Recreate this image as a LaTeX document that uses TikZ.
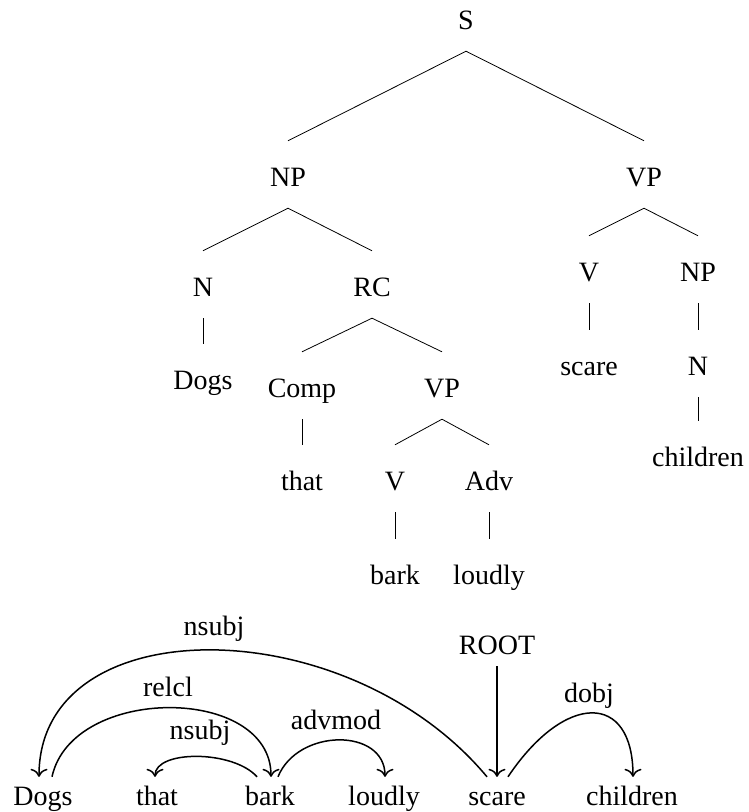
\documentclass[tikz,border=0pt]{standalone}
\usepackage{fontspec}
\setmainfont{Liberation Serif}
\usetikzlibrary{arrows.meta}
\begin{document}
\begin{tikzpicture}[x=1pt,y=1pt,
  every node/.style={font=\fontsize{28}{33}\selectfont},
  tnode/.style={anchor=base,text height=31pt,text depth=6pt,inner xsep=0pt,inner ysep=15pt},
  wnode/.style={anchor=base,text height=20pt,text depth=6pt,inner xsep=0pt,inner ysep=9pt},
  lbl/.style={anchor=base,inner sep=0pt},
  rootnode/.style={anchor=base,text height=20pt,text depth=6pt,inner xsep=0pt,inner ysep=5pt},
  tedge/.style={line width=0.8pt},
  dep/.style={line width=1.5pt,-{Computer Modern Rightarrow[length=8pt,width=17pt]}}]
\useasboundingbox (0,0) rectangle (748,812);
% constituency tree
\node[tnode] (S) at (466,782) {S};
\node[tnode] (NP) at (288,625) {NP};
\node[tnode] (VP) at (644,625) {VP};
\node[tnode] (N1) at (203,515) {N};
\node[tnode] (RC) at (372,515) {RC};
\node[tnode] (Dogs1) at (203,422) {Dogs};
\node[tnode] (Comp) at (302,414) {Comp};
\node[tnode] (VP2) at (442,414) {VP};
\node[tnode] (That1) at (302,321) {that};
\node[tnode] (V2) at (395,321) {V};
\node[tnode] (Adv) at (489,321) {Adv};
\node[tnode] (Bark1) at (395,227) {bark};
\node[tnode] (Loudly1) at (489,227) {loudly};
\node[tnode] (V1) at (589,530) {V};
\node[tnode] (NP2) at (698,530) {NP};
\node[tnode] (Scare1) at (589,436) {scare};
\node[tnode] (N2) at (698,436) {N};
\node[tnode] (Children1) at (698,345) {children};
\draw[tedge] (S.south) -- (NP.north);
\draw[tedge] (S.south) -- (VP.north);
\draw[tedge] (NP.south) -- (N1.north);
\draw[tedge] (NP.south) -- (RC.north);
\draw[tedge] (N1.south) -- (Dogs1.north);
\draw[tedge] (RC.south) -- (Comp.north);
\draw[tedge] (RC.south) -- (VP2.north);
\draw[tedge] (Comp.south) -- (That1.north);
\draw[tedge] (VP2.south) -- (V2.north);
\draw[tedge] (VP2.south) -- (Adv.north);
\draw[tedge] (V2.south) -- (Bark1.north);
\draw[tedge] (Adv.south) -- (Loudly1.north);
\draw[tedge] (VP.south) -- (V1.north);
\draw[tedge] (VP.south) -- (NP2.north);
\draw[tedge] (V1.south) -- (Scare1.north);
\draw[tedge] (NP2.south) -- (N2.north);
\draw[tedge] (N2.south) -- (Children1.north);
% dependency structure
\node[wnode] (wDogs) at (43,6) {Dogs};
\node[wnode] (wThat) at (157,6) {that};
\node[wnode] (wBark) at (270,6) {bark};
\node[wnode] (wLoudly) at (384,6) {loudly};
\node[wnode] (wScare) at (497,6) {scare};
\node[wnode] (wChildren) at (632,6) {children};
\node[rootnode] (root) at (497,157) {ROOT};
\node[lbl] (lNsubjA) at (214,176) {nsubj};
\node[lbl] (lRelcl) at (168,115) {relcl};
\node[lbl] (lNsubjB) at (200,72) {nsubj};
\node[lbl] (lAdvmod) at (336,82) {advmod};
\node[lbl] (lDobj) at (589,109) {dobj};
\draw[dep] (root.south) -- (wScare.north);
\draw[dep] ([xshift=-10pt]wScare.north) .. controls +(-141,169) and +(0,169) .. ([xshift=-4pt]wDogs.north);
\draw[dep] ([xshift=9pt]wDogs.north) .. controls +(20,92) and +(0,92) .. ([xshift=1pt]wBark.north);
\draw[dep] ([xshift=-13pt]wBark.north) .. controls +(-24,27) and +(0,27) .. ([xshift=-2pt]wThat.north);
\draw[dep] ([xshift=8pt]wBark.north) .. controls +(20,49) and +(0,49) .. ([xshift=1pt]wLoudly.north);
\draw[dep] ([xshift=11pt]wScare.north) .. controls +(57,85) and +(0,85) .. ([xshift=1pt]wChildren.north);
\end{tikzpicture}
\end{document}
